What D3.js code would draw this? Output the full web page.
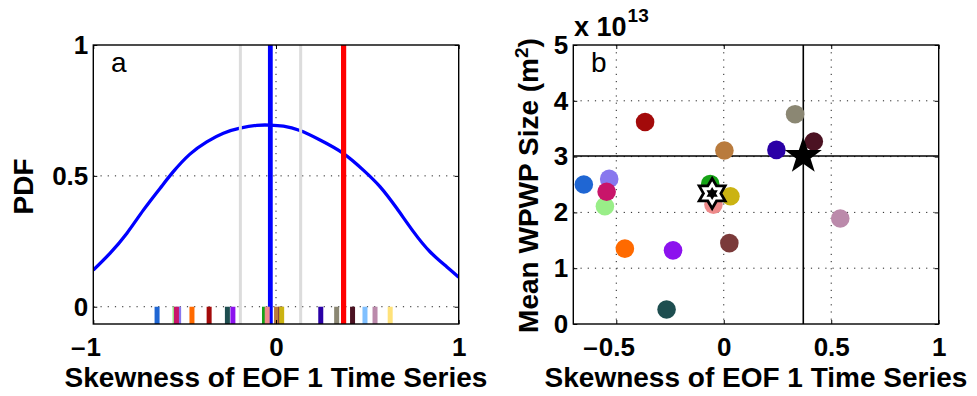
<!DOCTYPE html>
<html>
<head>
<meta charset="utf-8">
<script src="https://cdn.jsdelivr.net/npm/d3@7"></script>
<style>
  html, body { margin: 0; padding: 0; background: #fff; }
  svg { display: block; font-family: "Liberation Sans", Arial, Helvetica, sans-serif; }
</style>
</head>
<body>
<svg id="fig" width="977" height="396"></svg>
<script>
// ---- Model data (one entry per model) ----
const modelColors = [
  "#1f66d3", "#99ee88", "#8877ee", "#c8156a", "#ff6a00", "#a30a0a",
  "#1e4e50", "#8c12ee", "#16a316", "#ee8a8a", "#b97b3d", "#7b3a3a",
  "#cbb312", "#2a00a6", "#8b8773", "#4b1222", "#80c0ff", "#bb8aab", "#ffe27a"
];
const modelSkewness = [
  -0.651, -0.553, -0.533, -0.545, -0.460, -0.366,
  -0.266, -0.236, -0.063, -0.048, 0.003, 0.026,
  0.031, 0.245, 0.332, 0.419, 0.487, 0.542, 0.625
];
// Mean WPWP size in units of 1e13 m^2 (null = not available)
const modelWpwpSize = [
  2.50, 2.11, 2.60, 2.37, 1.35, 3.62,
  0.26, 1.32, 2.51, 2.14, 3.11, 1.45,
  2.29, 3.12, 3.76, 3.27, null, 1.89, null
];

// Ensemble and observed reference values
const ensembleSkewness = -0.031;
const ensembleRange = [-0.195, 0.135];
const observedSkewness = 0.37;
const observedWpwpSize = 3.01;
const ensembleMeanSkewness = -0.054;
const ensembleMeanWpwpSize = 2.34;

// PDF curve of skewness
const pdfSkewness = [-1.0, -0.909, -0.817, -0.726, -0.635, -0.562, -0.471, -0.379, -0.288, -0.197,
  -0.106, -0.033, 0.041, 0.131, 0.241, 0.368, 0.478, 0.569, 0.661, 0.752, 0.843, 0.934, 1.0];
const pdfDensity = [0.140, 0.204, 0.280, 0.369, 0.452, 0.516, 0.583, 0.630, 0.663, 0.682,
  0.693, 0.694, 0.690, 0.673, 0.637, 0.586, 0.522, 0.459, 0.376, 0.287, 0.210, 0.153, 0.113];

// Tick values
const pdfTicksX = [-1, 0, 1];
const pdfTicksY = [0, 0.5, 1];
const scatterTicksX = [-0.5, 0, 0.5, 1];
const scatterTicksY = [0, 1, 2, 3, 4, 5];

const svg = d3.select("#fig");
const TICK_FONT = 26, LABEL_FONT = 28;

const boxA = { left: 93.3, right: 458.7, top: 45, bottom: 324 };
const boxB = { left: 573.3, right: 938.7, top: 45, bottom: 324 };

const xA = d3.scaleLinear().domain([-1, 1]).range([boxA.left, boxA.right]);
const yA = d3.scaleLinear().domain([-0.066, 1]).range([boxA.bottom, boxA.top]);
const xB = d3.scaleLinear().domain([-0.7, 1]).range([boxB.left, boxB.right]);
const yB = d3.scaleLinear().domain([0, 5]).range([boxB.bottom, boxB.top]);

const fmt = v => String(Math.abs(v));

function gridLines(g, x, y, box, gx, gy) {
  const grid = g.append("g").attr("stroke", "#222").attr("stroke-width", 1)
    .attr("stroke-dasharray", "1.2,6").attr("fill", "none");
  grid.selectAll("line.gx").data(gx).join("line").attr("class", "gx")
    .attr("x1", d => x(d)).attr("x2", d => x(d)).attr("y1", box.top).attr("y2", box.bottom);
  grid.selectAll("line.gy").data(gy).join("line").attr("class", "gy")
    .attr("y1", d => y(d)).attr("y2", d => y(d)).attr("x1", box.left).attr("x2", box.right);
}

function frameAndAxes(g, x, y, box, tx, ty) {
  const styleAxis = sel => {
    sel.select(".domain").remove();
    sel.selectAll(".tick line").attr("stroke", "#000").attr("stroke-width", 1);
    sel.selectAll("text").attr("font-size", TICK_FONT).attr("font-weight", "bold").attr("fill", "#000")
      .attr("font-family", "'Liberation Sans', Arial, sans-serif");
  };
  // bottom with labels
  const bottom = g.append("g").attr("transform", `translate(0,${box.bottom})`)
    .call(d3.axisBottom(x).tickValues(tx).tickSizeInner(-4).tickSizeOuter(0).tickPadding(14).tickFormat(fmt));
  styleAxis(bottom);
  // minus sign hangs to the left of the centred number
  bottom.selectAll(".tick").each(function (d) {
    if (d < 0) {
      const t = d3.select(this).select("text");
      const w = t.node().getComputedTextLength();
      d3.select(this).append("text")
        .attr("x", -w / 2 - 1).attr("y", 14).attr("dy", "0.71em")
        .attr("text-anchor", "end").attr("font-size", TICK_FONT).attr("font-weight", "bold")
        .attr("fill", "#000").text("\u2013");
    }
  });
  // top ticks
  const top = g.append("g").attr("transform", `translate(0,${box.top})`)
    .call(d3.axisTop(x).tickValues(tx).tickSizeInner(-4).tickSizeOuter(0).tickFormat(""));
  styleAxis(top);
  // left with labels
  const left = g.append("g").attr("transform", `translate(${box.left},0)`)
    .call(d3.axisLeft(y).tickValues(ty).tickSizeInner(-4).tickSizeOuter(0).tickPadding(5).tickFormat(d => String(d)));
  styleAxis(left);
  const right = g.append("g").attr("transform", `translate(${box.right},0)`)
    .call(d3.axisRight(y).tickValues(ty).tickSizeInner(-4).tickSizeOuter(0).tickFormat(""));
  styleAxis(right);
  g.append("rect").attr("x", box.left).attr("y", box.top)
    .attr("width", box.right - box.left).attr("height", box.bottom - box.top)
    .attr("fill", "none").attr("stroke", "#000").attr("stroke-width", 1.4);
}

function starPath(n, R, r) {
  const pts = [];
  for (let i = 0; i < 2 * n; i++) {
    const a = -Math.PI / 2 + i * Math.PI / n;
    const rad = i % 2 === 0 ? R : r;
    pts.push([rad * Math.cos(a), rad * Math.sin(a)]);
  }
  return "M" + pts.map(p => p[0].toFixed(2) + "," + p[1].toFixed(2)).join("L") + "Z";
}

// ================= Panel a: PDF of skewness =================
const gA = svg.append("g");
gA.append("clipPath").attr("id", "clipA").append("rect")
  .attr("x", boxA.left).attr("y", boxA.top)
  .attr("width", boxA.right - boxA.left).attr("height", boxA.bottom - boxA.top);

gridLines(gA, xA, yA, boxA, [0], [0, 0.5]);

const plotA = gA.append("g").attr("clip-path", "url(#clipA)");
const pdfLine = d3.line().x(d => xA(d[0])).y(d => yA(d[1])).curve(d3.curveNatural);
plotA.append("path").datum(pdfSkewness.map((s, i) => [s, pdfDensity[i]]))
  .attr("d", pdfLine).attr("fill", "none").attr("stroke", "#0000ff").attr("stroke-width", 3.3);

// ensemble spread (grey), ensemble mean (blue), observation (red)
plotA.selectAll("line.spread").data(ensembleRange).join("line").attr("class", "spread")
  .attr("x1", d => xA(d)).attr("x2", d => xA(d)).attr("y1", boxA.top).attr("y2", boxA.bottom)
  .attr("stroke", "#dcdcdc").attr("stroke-width", 3);
plotA.append("line")
  .attr("x1", xA(ensembleSkewness)).attr("x2", xA(ensembleSkewness))
  .attr("y1", boxA.top).attr("y2", boxA.bottom)
  .attr("stroke", "#0000ff").attr("stroke-width", 4.8);
plotA.append("line")
  .attr("x1", xA(observedSkewness)).attr("x2", xA(observedSkewness))
  .attr("y1", boxA.top).attr("y2", boxA.bottom)
  .attr("stroke", "#ff0000").attr("stroke-width", 5.2);

// individual model rug marks
plotA.selectAll("rect.rug").data(modelSkewness).join("rect").attr("class", "rug")
  .attr("x", d => xA(d) - 2.5).attr("width", 5)
  .attr("y", yA(0)).attr("height", boxA.bottom - yA(0))
  .attr("fill", (d, i) => modelColors[i]);

frameAndAxes(gA, xA, yA, boxA, pdfTicksX, pdfTicksY);

gA.append("text").attr("x", 111).attr("y", 72).attr("font-size", 28).attr("fill", "#000").text("a");
gA.append("text").attr("x", (boxA.left + boxA.right) / 2).attr("y", 387)
  .attr("text-anchor", "middle").attr("font-size", LABEL_FONT).attr("font-weight", "bold").text("Skewness of EOF 1 Time Series");
gA.append("text").attr("transform", `translate(33,186.5) rotate(-90)`)
  .attr("text-anchor", "middle").attr("font-size", LABEL_FONT).attr("font-weight", "bold").text("PDF");

// ================= Panel b: skewness vs WPWP size =================
const gB = svg.append("g");
gridLines(gB, xB, yB, boxB, [-0.5, 0, 0.5], [1, 2, 3, 4]);

gB.append("line").attr("x1", xB(observedSkewness)).attr("x2", xB(observedSkewness))
  .attr("y1", boxB.top).attr("y2", boxB.bottom).attr("stroke", "#000").attr("stroke-width", 1.6);
gB.append("line").attr("y1", yB(observedWpwpSize)).attr("y2", yB(observedWpwpSize))
  .attr("x1", boxB.left).attr("x2", boxB.right).attr("stroke", "#000").attr("stroke-width", 1.6);

const pts = modelSkewness.map((s, i) => ({ s, v: modelWpwpSize[i], c: modelColors[i] }))
  .filter(d => d.v !== null);
gB.selectAll("circle.model").data(pts).join("circle").attr("class", "model")
  .attr("cx", d => xB(d.s)).attr("cy", d => yB(d.v)).attr("r", 9.3)
  .attr("fill", d => d.c);

// ensemble mean (hexagram)
const hex = gB.append("g").attr("transform", `translate(${xB(ensembleMeanSkewness)},${yB(ensembleMeanWpwpSize)})`);
hex.append("path").attr("d", starPath(6, 15, 8.7)).attr("fill", "#fff").attr("stroke", "#000").attr("stroke-width", 2.8);
hex.append("path").attr("d", starPath(6, 6.5, 3.8)).attr("fill", "#000");

// observation (pentagram)
gB.append("path").attr("transform", `translate(${xB(observedSkewness)},${yB(observedWpwpSize)})`)
  .attr("d", starPath(5, 19.5, 7.6)).attr("fill", "#000");

frameAndAxes(gB, xB, yB, boxB, scatterTicksX, scatterTicksY);

gB.append("text").attr("x", 591).attr("y", 72).attr("font-size", 28).attr("fill", "#000").text("b");
gB.append("text").attr("x", (boxB.left + boxB.right) / 2).attr("y", 387)
  .attr("text-anchor", "middle").attr("font-size", LABEL_FONT).attr("font-weight", "bold").text("Skewness of EOF 1 Time Series");
const yl = gB.append("text").attr("transform", `translate(538,185.5) rotate(-90)`)
  .attr("text-anchor", "middle").attr("font-size", LABEL_FONT).attr("font-weight", "bold");
yl.append("tspan").text("Mean WPWP Size (m");
yl.append("tspan").attr("dy", -10).attr("font-size", 19).text("2");
yl.append("tspan").attr("dy", 10).text(")");

// axis multiplier
const mult = gB.append("text").attr("x", 574).attr("y", 36).attr("font-weight", "bold").attr("fill", "#000");
mult.append("tspan").attr("font-size", 27).text("x 10");
mult.append("tspan").attr("font-size", 19).attr("dy", -14).attr("dx", 1).text("13");
</script>
</body>
</html>
